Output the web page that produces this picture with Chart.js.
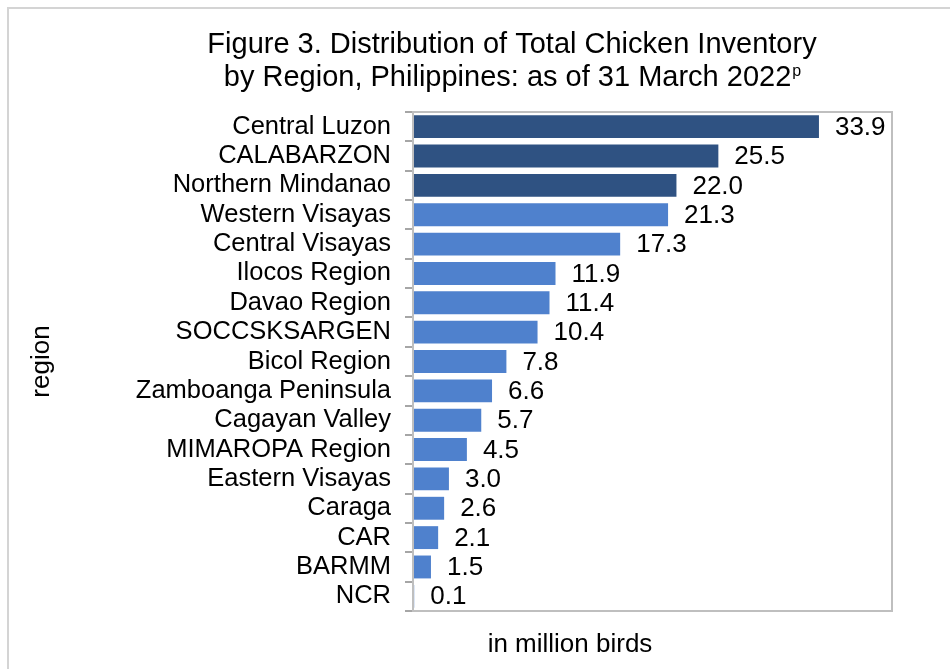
<!DOCTYPE html>
<html>
<head>
<meta charset="utf-8">
<script src="https://cdn.jsdelivr.net/npm/chart.js@4.4.1/dist/chart.umd.min.js"></script>
<style>
  html, body { margin: 0; padding: 0; background: #fff; overflow: hidden; }
  #frame {
    position: absolute; left: 7px; top: 7px; width: 980px; height: 700px;
    border: 2px solid #d4d4d4; box-sizing: border-box; pointer-events: none;
  }
  #chart { position: absolute; left: 0; top: 0; }
</style>
</head>
<body>
<canvas id="chart" width="950" height="669"></canvas>
<div id="frame"></div>
<script>
// data
const regions = ['Central Luzon', 'CALABARZON', 'Northern Mindanao', 'Western Visayas',
  'Central Visayas', 'Ilocos Region', 'Davao Region', 'SOCCSKSARGEN', 'Bicol Region',
  'Zamboanga Peninsula', 'Cagayan Valley', 'MIMAROPA Region', 'Eastern Visayas',
  'Caraga', 'CAR', 'BARMM', 'NCR'];
const inventory = [33.9, 25.5, 22.0, 21.3, 17.3, 11.9, 11.4, 10.4, 7.8, 6.6, 5.7, 4.5, 3.0, 2.6, 2.1, 1.5, 0.1];
const topCount = 3; // top three regions drawn darker
const xMax = 40;

const titleLines = ['Figure 3. Distribution of Total Chicken Inventory',
  'by Region, Philippines: as of 31 March 2022'];
const titleMark = 'p';
const xTitle = 'in million birds';
const yTitle = 'region';

const FONT = '"Liberation Sans", Arial, sans-serif';
const dark = '#2f5282';
const light = '#4f81cd';
const barColors = inventory.map((v, i) => i < topCount ? dark : light);

// title, frame of the plot, value labels and x title
const extras = {
  id: 'extras',
  afterDatasetsDraw(chart) {
    const ctx = chart.ctx;
    const area = chart.chartArea;
    ctx.save();

    // plot border
    ctx.strokeStyle = '#bfbfbf';
    ctx.lineWidth = 2;
    ctx.strokeRect(area.left, area.top, area.right - area.left, area.bottom - area.top);

    // value labels
    ctx.fillStyle = '#000';
    ctx.font = '26px ' + FONT;
    ctx.textBaseline = 'middle';
    ctx.textAlign = 'left';
    chart.getDatasetMeta(0).data.forEach((bar, i) => {
      ctx.fillText(inventory[i].toFixed(1), bar.x + 16, bar.y + 1);
    });

    // title
    const cx = 512;
    ctx.font = '29px ' + FONT;
    ctx.textAlign = 'center';
    ctx.fillText(titleLines[0], cx, 45);
    const w2 = ctx.measureText(titleLines[1]).width;
    ctx.font = '16px ' + FONT;
    const wp = ctx.measureText(titleMark).width;
    const x2 = cx - (w2 + wp) / 2;
    ctx.textAlign = 'left';
    ctx.font = '29px ' + FONT;
    ctx.fillText(titleLines[1], x2, 78);
    ctx.font = '16px ' + FONT;
    ctx.fillText(titleMark, x2 + w2 + 1, 72);

    // x axis title
    ctx.font = '26px ' + FONT;
    ctx.textAlign = 'center';
    ctx.fillText(xTitle, 570, 645);
    ctx.restore();
  }
};

new Chart(document.getElementById('chart'), {
  type: 'bar',
  data: {
    labels: regions,
    datasets: [{
      data: inventory,
      backgroundColor: barColors,
      borderWidth: 0,
      categoryPercentage: 1,
      barPercentage: 0.78
    }]
  },
  options: {
    indexAxis: 'y',
    responsive: false,
    animation: false,
    layout: { padding: { left: 26, right: 58, top: 112, bottom: 0 } },
    plugins: {
      legend: { display: false },
      tooltip: { enabled: false }
    },
    scales: {
      x: {
        min: 0,
        max: xMax,
        ticks: { display: false },
        grid: { drawOnChartArea: false, drawTicks: false },
        border: { color: '#bfbfbf', width: 2 },
        afterFit(scale) { scale.height = 58; }
      },
      y: {
        ticks: {
          color: '#000',
          padding: 14,
          autoSkip: false,
          font: { family: FONT, size: 25.5 }
        },
        grid: {
          drawOnChartArea: false,
          drawTicks: true,
          tickLength: 8,
          color: '#a6a6a6',
          lineWidth: 2
        },
        border: { color: '#a6a6a6', width: 2 },
        title: {
          display: true,
          text: yTitle,
          color: '#000',
          padding: 0,
          font: { family: FONT, size: 26 }
        },
        afterFit(scale) { scale.width = 387; }
      }
    }
  },
  plugins: [extras]
});
</script>
</body>
</html>
